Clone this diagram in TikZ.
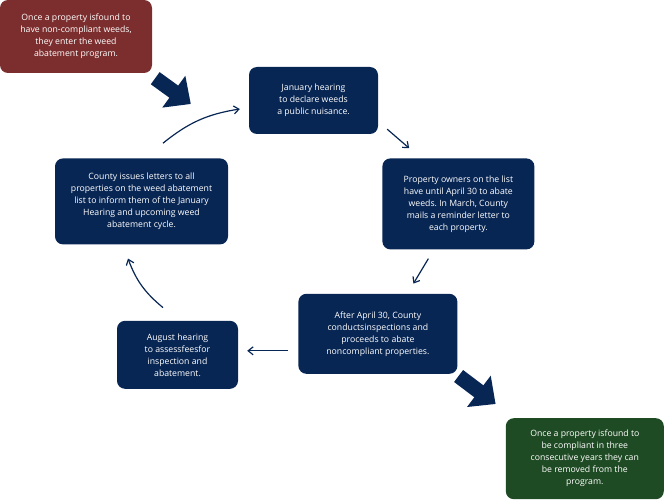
\documentclass[tikz,border=0pt]{standalone}
\usepackage{fontspec}
\setmainfont{Open Sans}
\usetikzlibrary{positioning, arrows.meta, calc}
\frenchspacing

\definecolor{navy}{RGB}{8,38,84}
\definecolor{wine}{RGB}{124,45,45}
\definecolor{leaf}{RGB}{31,75,36}

\tikzset{
  box/.style={fill=navy, rounded corners=8pt, text=white, align=center,
    inner sep=0pt, font=\fontsize{8.7}{12}\selectfont},
  flow/.style={draw=navy, line width=1.2pt, -{Straight Barb[length=5pt, width=8pt]}},
  bigarrow/.style={draw=navy, line width=15pt, -{Triangle[length=21pt, width=38pt]}}
}

\begin{document}
\begin{tikzpicture}[x=1pt, y=-1pt]
\useasboundingbox (0,0) rectangle (664,500);

\node[box, fill=wine, minimum width=152pt, minimum height=73pt] (start) at (76,36.5)
  {Once a property isfound to\\have non-compliant weeds,\\they enter the weed\\abatement program.};
\node[box, minimum width=129pt, minimum height=67pt] (jan) at (313.5,100.5)
  {January hearing\\to declare weeds\\a public nuisance.};
\node[box, minimum width=152pt, minimum height=91pt] (owners) [below right=24pt and 4pt of jan]
  {Property owners on the list\\have until April 30 to abate\\weeds. In March, County\\mails a reminder letter to\\each property.};
\node[box, minimum width=159pt, minimum height=80pt] (inspect) [below=44pt of owners, xshift=-80.5pt]
  {After April 30, County\\conductsinspections and\\proceeds to abate\\noncompliant properties.};
\node[box, minimum width=121pt, minimum height=68pt] (aug) [left=60pt of inspect, yshift=-21pt]
  {August hearing\\to assessfeesfor\\inspection and\\abatement.};
\node[box, minimum width=173pt, minimum height=86pt] (letters) [above=76pt of aug, xshift=-36pt]
  {County issues letters to all\\properties on the weed abatement\\list to inform them of the January\\Hearing and upcoming weed\\abatement cycle.};
\node[box, fill=leaf, minimum width=158pt, minimum height=81pt] (done) [below right=44pt and 48pt of inspect]
  {Once a property isfound to\\be compliant in three\\consecutive years they can\\be removed from the\\program.};

% entry and exit
\draw[bigarrow] ([xshift=3pt, yshift=-5pt]start.south east) -- ([xshift=-58pt, yshift=-3.5pt]jan.west);
\draw[bigarrow] ([xshift=1pt, yshift=-2pt]inspect.south east) -- ([xshift=-10pt, yshift=14pt]done.north west);

% the yearly cycle
\draw[flow] ([xshift=21.5pt, yshift=15pt]letters.north) to[bend left=15] ([xshift=-9pt, yshift=-8.5pt]jan.west);
\draw[flow] ([xshift=9pt, yshift=5pt]jan.south east) -- ([xshift=27pt, yshift=10pt]owners.north west);
\draw[flow] ([xshift=-30pt, yshift=-9pt]owners.south) -- ([xshift=35.5pt, yshift=10pt]inspect.north);
\draw[flow] ([xshift=-10pt, yshift=-17pt]inspect.west) -- ([xshift=9pt, yshift=4pt]aug.east);
\draw[flow] ([xshift=-14.5pt, yshift=13pt]aug.north) to[bend left=15] ([xshift=-13.5pt, yshift=-14pt]letters.south);
\end{tikzpicture}
\end{document}
